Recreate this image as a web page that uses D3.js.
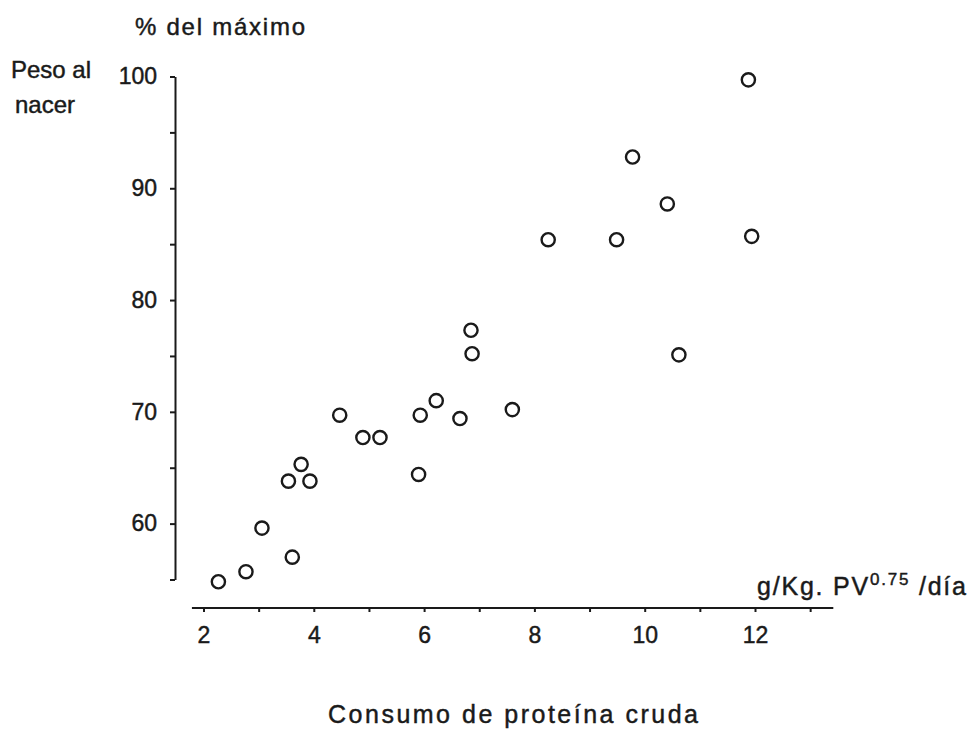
<!DOCTYPE html>
<html>
<head>
<meta charset="utf-8">
<script src="https://cdn.jsdelivr.net/npm/d3@7"></script>
<style>
  html, body { margin: 0; padding: 0; background: #fff; }
  svg text { font-family: 'Liberation Sans', Arial, sans-serif; fill: #1a1a1a; stroke: #1a1a1a; stroke-width: 0.45px; }
</style>
</head>
<body>
<div class="container"></div>
<script>
// protein intake (g/Kg PV^0.75/día) and birth weight (% of maximum)
const proteinIntake = [2.27, 2.77, 3.06, 3.61, 3.54, 3.77, 3.93, 4.47, 4.89, 5.2, 5.9, 5.93,
  6.22, 6.65, 6.85, 6.87, 7.6, 8.25, 9.49, 9.78, 10.41, 10.62, 11.88, 11.94]
const birthWeightPct = [54.8, 55.7, 59.6, 57.0, 63.8, 65.3, 63.8, 69.7, 67.7, 67.7, 64.4, 69.7,
  71.0, 69.4, 77.3, 75.2, 70.2, 85.4, 85.4, 92.8, 88.6, 75.1, 99.7, 85.7]
const xTicks = [2, 3, 4, 5, 6, 7, 8, 9, 10, 11, 12, 13]
const yTicks = [55, 60, 65, 70, 75, 80, 85, 90, 95, 100]

const width = 970
const height = 731
const ink = '#1a1a1a'

const svg = d3
  .select('.container')
  .append('svg')
  .attr('width', width)
  .attr('height', height)

const x = d3.scaleLinear().domain([2, 12]).range([203.5, 755])
const y = d3.scaleLinear().domain([55, 100]).range([579.5, 76.5])

const yAxisX = 175
const xAxisY = 608

// y axis
const yAxis = svg
  .append('g')
  .attr('transform', `translate(${yAxisX},0)`)
  .call(
    d3
      .axisLeft(y)
      .tickValues(yTicks)
      .tickSize(5)
      .tickSizeOuter(0)
      .tickPadding(13)
      .tickFormat((d) => (d % 10 === 0 ? d : ''))
  )
yAxis.select('.domain').attr('stroke', ink).attr('stroke-width', 2)
yAxis.selectAll('.tick line').attr('stroke', ink).attr('stroke-width', 2)
yAxis
  .selectAll('.tick text')
  .attr('font-size', '23px')
  .attr('fill', ink)
  .style('font-family', "'Liberation Sans', Arial, sans-serif")

// x axis
const xAxis = svg
  .append('g')
  .attr('transform', `translate(0,${xAxisY})`)
  .call(
    d3
      .axisBottom(x)
      .tickValues(xTicks)
      .tickSize(4)
      .tickSizeOuter(0)
      .tickPadding(15)
      .tickFormat((d) => (d % 2 === 0 && d <= 12 ? d : ''))
  )
xAxis
  .select('.domain')
  .attr('d', `M${x(1.79)},0H${x(13.42)}`)
  .attr('stroke', ink)
  .attr('stroke-width', 2)
xAxis.selectAll('.tick line').attr('stroke', ink).attr('stroke-width', 2)
xAxis
  .selectAll('.tick text')
  .attr('font-size', '23px')
  .attr('fill', ink)
  .style('font-family', "'Liberation Sans', Arial, sans-serif")

// points
svg
  .append('g')
  .selectAll('circle')
  .data(proteinIntake.map((d, i) => [d, birthWeightPct[i]]))
  .enter()
  .append('circle')
  .attr('cx', (d) => x(d[0]))
  .attr('cy', (d) => y(d[1]))
  .attr('r', 6.6)
  .attr('fill', 'none')
  .attr('stroke', ink)
  .attr('stroke-width', 2.4)

// labels
svg
  .append('text')
  .attr('x', 135)
  .attr('y', 35)
  .attr('font-size', '24px')
  .attr('textLength', 170)
  .text('% del máximo')

svg
  .append('text')
  .attr('x', 11)
  .attr('y', 78)
  .attr('font-size', '24px')
  .text('Peso al')

svg
  .append('text')
  .attr('x', 15)
  .attr('y', 113)
  .attr('font-size', '24px')
  .text('nacer')

const unit = svg
  .append('text')
  .attr('x', 757)
  .attr('y', 595)
  .attr('font-size', '25px')
unit.append('tspan').text('g/Kg. PV')
unit.append('tspan').attr('dy', -10).attr('font-size', '17px').text('0.75')
unit.append('tspan').attr('dy', 10).text(' /día')
unit.attr('textLength', 209)

svg
  .append('text')
  .attr('x', 328)
  .attr('y', 723)
  .attr('font-size', '25px')
  .attr('textLength', 370)
  .text('Consumo de proteína cruda')
</script>
</body>
</html>
